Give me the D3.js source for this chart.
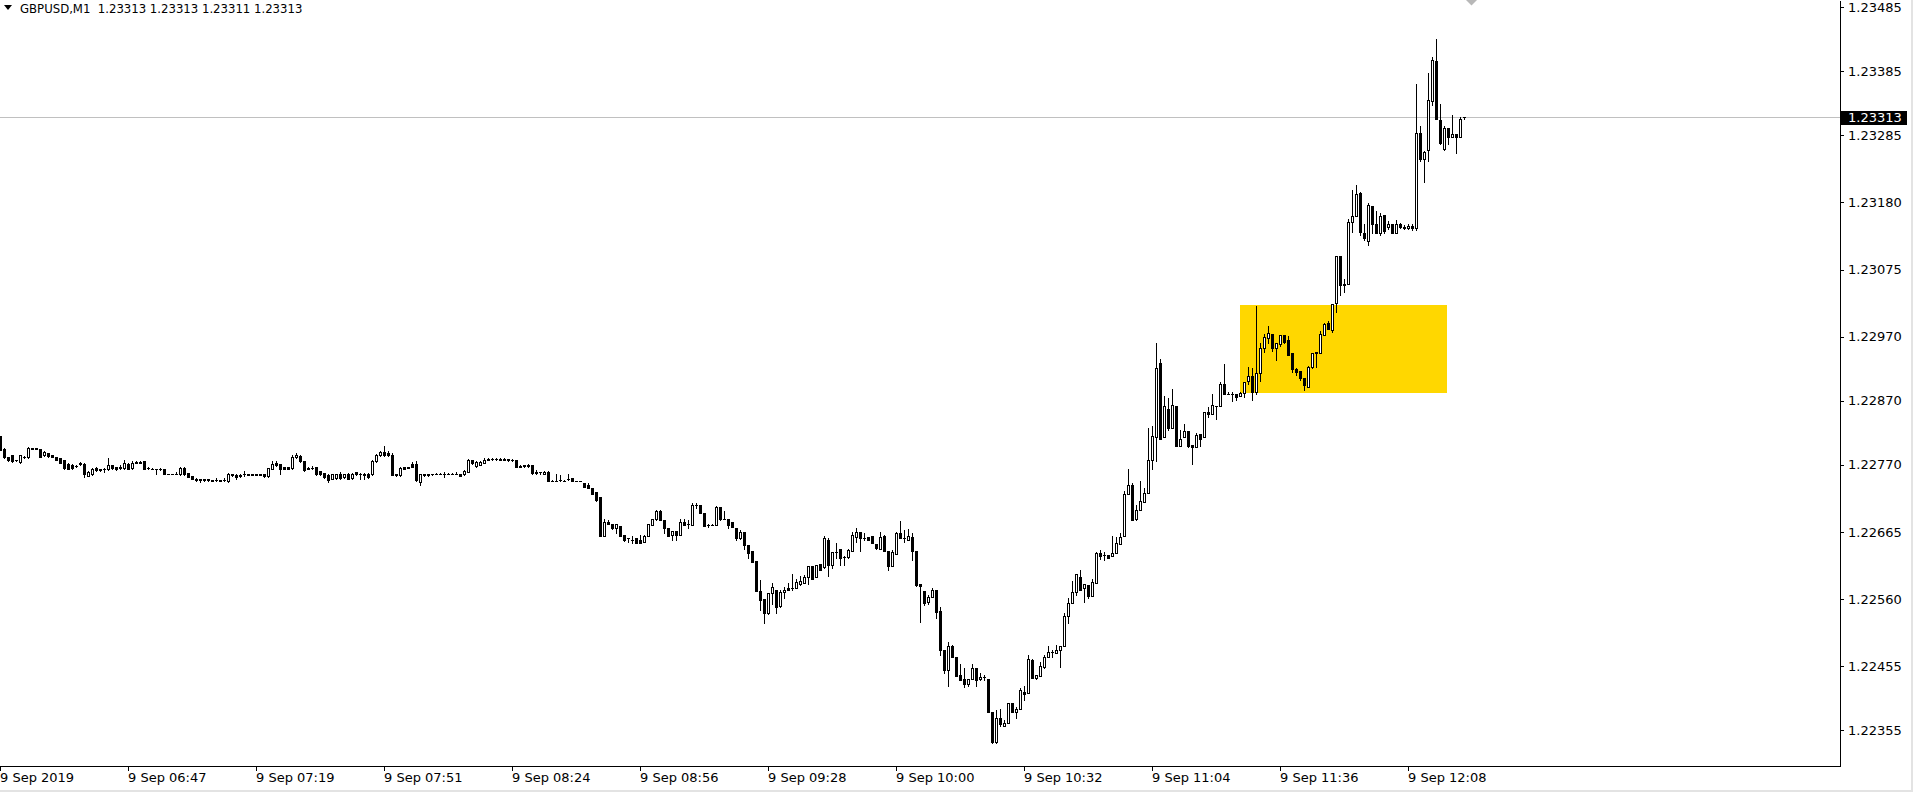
<!DOCTYPE html>
<html><head><meta charset="utf-8">
<script src="https://cdn.jsdelivr.net/npm/d3@7"></script>
<style>
html,body{margin:0;padding:0;background:#fff;overflow:hidden;}
svg{display:block;}
text{font-family:"DejaVu Sans",sans-serif;}
text.title{font-family:"DejaVu Sans Condensed","DejaVu Sans",sans-serif;font-stretch:condensed;}
</style></head><body>
<svg id="chart" width="1915" height="793"></svg>
<script>
// ---------- data ----------
const symbolName = "GBPUSD,M1";
const lastQuote = ["1.23313", "1.23313", "1.23311", "1.23313"];
const currentPrice = 1.23313;
const viewPriceRange = [1.222992, 1.234964];
const visibleBars = 460;
const priceTicks = [1.23485, 1.23385, 1.23285, 1.23180, 1.23075, 1.22970, 1.22870, 1.22770, 1.22665, 1.22560, 1.22455, 1.22355];
const timeTickBars = [0, 32, 64, 96, 128, 160, 192, 224, 256, 288, 320, 352];
const timeLabels = ["9 Sep 2019", "9 Sep 06:47", "9 Sep 07:19", "9 Sep 07:51", "9 Sep 08:24", "9 Sep 08:56", "9 Sep 09:28", "9 Sep 10:00", "9 Sep 10:32", "9 Sep 11:04", "9 Sep 11:36", "9 Sep 12:08"];
const zoneBars = [310, 361.75];
const zonePrices = [1.23020, 1.22882];

const opens = [
1.22815,1.22795,1.22782,1.22785,1.22777,1.22775,1.22782,1.22782,1.22796,1.22796,
1.22795,1.22785,1.22789,1.22785,1.22782,1.22780,1.22777,1.22771,1.22769,1.22768,
1.22771,1.22771,1.22753,1.22755,1.22765,1.22764,1.22763,1.22763,1.22769,1.22767,
1.22767,1.22765,1.22771,1.22765,1.22775,1.22774,1.22776,1.22765,1.22764,1.22764,
1.22764,1.22763,1.22756,1.22756,1.22756,1.22755,1.22765,1.22757,1.22752,1.22748,
1.22747,1.22748,1.22747,1.22746,1.22746,1.22746,1.22746,1.22744,1.22756,1.22754,
1.22754,1.22755,1.22755,1.22755,1.22755,1.22755,1.22755,1.22753,1.22764,1.22772,
1.22771,1.22767,1.22767,1.22765,1.22782,1.22784,1.22776,1.22765,1.22765,1.22767,
1.22760,1.22757,1.22754,1.22748,1.22749,1.22755,1.22751,1.22756,1.22749,1.22758,
1.22756,1.22756,1.22756,1.22755,1.22776,1.22785,1.22790,1.22789,1.22786,1.22755,
1.22754,1.22766,1.22766,1.22771,1.22771,1.22743,1.22755,1.22755,1.22755,1.22756,
1.22756,1.22756,1.22756,1.22756,1.22756,1.22756,1.22755,1.22759,1.22777,1.22768,
1.22770,1.22773,1.22778,1.22779,1.22779,1.22779,1.22778,1.22779,1.22778,1.22777,
1.22767,1.22769,1.22768,1.22770,1.22757,1.22758,1.22756,1.22759,1.22745,1.22745,
1.22746,1.22745,1.22747,1.22749,1.22745,1.22745,1.22741,1.22738,1.22733,1.22728,
1.22720,1.22659,1.22681,1.22677,1.22671,1.22674,1.22660,1.22655,1.22653,1.22655,
1.22653,1.22650,1.22658,1.22676,1.22685,1.22698,1.22684,1.22671,1.22660,1.22666,
1.22660,1.22681,1.22677,1.22676,1.22707,1.22707,1.22695,1.22676,1.22676,1.22676,
1.22704,1.22686,1.22685,1.22681,1.22671,1.22655,1.22665,1.22645,1.22635,1.22620,
1.22573,1.22560,1.22538,1.22569,1.22575,1.22549,1.22571,1.22577,1.22577,1.22577,
1.22584,1.22585,1.22594,1.22612,1.22594,1.22615,1.22611,1.22653,1.22613,1.22634,
1.22638,1.22626,1.22626,1.22636,1.22657,1.22665,1.22656,1.22657,1.22658,1.22646,
1.22639,1.22659,1.22636,1.22612,1.22631,1.22664,1.22655,1.22652,1.22657,1.22636,
1.22584,1.22573,1.22556,1.22564,1.22574,1.22541,1.22481,1.22449,1.22486,1.22469,
1.22441,1.22435,1.22428,1.22435,1.22452,1.22435,1.22438,1.22435,1.22384,1.22336,
1.22374,1.22362,1.22367,1.22397,1.22384,1.22388,1.22415,1.22414,1.22465,1.22436,
1.22440,1.22454,1.22470,1.22478,1.22476,1.22481,1.22486,1.22534,1.22554,1.22571,
1.22595,1.22577,1.22582,1.22565,1.22585,1.22632,1.22629,1.22629,1.22627,1.22632,
1.22646,1.22658,1.22724,1.22738,1.22686,1.22700,1.22712,1.22726,1.22778,1.22814,
1.22929,1.22814,1.22857,1.22828,1.22862,1.22800,1.22814,1.22823,1.22801,1.22797,
1.22818,1.22813,1.22852,1.22850,1.22862,1.22862,1.22897,1.22881,1.22881,1.22881,
1.22878,1.22882,1.22901,1.22909,1.22883,1.22914,1.22952,1.22968,1.22975,1.22953,
1.22959,1.22973,1.22965,1.22944,1.22919,1.22916,1.22906,1.22892,1.22923,1.22947,
1.22944,1.22973,1.22992,1.22981,1.23023,1.23096,1.23051,1.23052,1.23149,1.23159,
1.23194,1.23133,1.23119,1.23174,1.23146,1.23133,1.23160,1.23142,1.23147,1.23133,
1.23146,1.23142,1.23140,1.23143,1.23140,1.23288,1.23248,1.23262,1.23338,1.23401,
1.23309,1.23263,1.23297,1.23283,1.23287,1.23282,1.23313];

const highs = [
1.22815,1.22796,1.22782,1.22786,1.22778,1.22786,1.22784,1.22797,1.22796,1.22796,
1.22795,1.22791,1.22789,1.22785,1.22782,1.22780,1.22777,1.22772,1.22771,1.22769,
1.22775,1.22772,1.22760,1.22765,1.22767,1.22764,1.22765,1.22781,1.22769,1.22767,
1.22769,1.22777,1.22772,1.22776,1.22776,1.22776,1.22776,1.22767,1.22765,1.22764,
1.22765,1.22764,1.22756,1.22756,1.22759,1.22766,1.22766,1.22757,1.22752,1.22749,
1.22748,1.22748,1.22748,1.22746,1.22749,1.22746,1.22750,1.22757,1.22756,1.22755,
1.22756,1.22760,1.22755,1.22755,1.22755,1.22755,1.22756,1.22765,1.22776,1.22776,
1.22771,1.22767,1.22767,1.22785,1.22788,1.22785,1.22776,1.22767,1.22768,1.22767,
1.22760,1.22757,1.22755,1.22756,1.22756,1.22758,1.22756,1.22757,1.22757,1.22759,
1.22757,1.22757,1.22757,1.22777,1.22787,1.22791,1.22800,1.22791,1.22788,1.22755,
1.22766,1.22766,1.22767,1.22775,1.22776,1.22756,1.22756,1.22755,1.22756,1.22757,
1.22757,1.22758,1.22757,1.22757,1.22759,1.22756,1.22762,1.22779,1.22778,1.22776,
1.22776,1.22780,1.22780,1.22780,1.22780,1.22780,1.22780,1.22779,1.22779,1.22778,
1.22769,1.22770,1.22771,1.22770,1.22762,1.22758,1.22760,1.22760,1.22746,1.22756,
1.22754,1.22746,1.22756,1.22749,1.22745,1.22745,1.22741,1.22741,1.22733,1.22728,
1.22720,1.22685,1.22683,1.22677,1.22678,1.22674,1.22660,1.22655,1.22658,1.22655,
1.22660,1.22660,1.22678,1.22686,1.22700,1.22699,1.22684,1.22671,1.22667,1.22667,
1.22685,1.22685,1.22683,1.22710,1.22711,1.22707,1.22695,1.22678,1.22677,1.22706,
1.22704,1.22698,1.22685,1.22681,1.22671,1.22668,1.22665,1.22645,1.22635,1.22620,
1.22590,1.22560,1.22570,1.22585,1.22575,1.22575,1.22579,1.22585,1.22599,1.22591,
1.22596,1.22598,1.22612,1.22612,1.22613,1.22615,1.22658,1.22655,1.22634,1.22648,
1.22638,1.22627,1.22639,1.22665,1.22671,1.22665,1.22664,1.22657,1.22658,1.22646,
1.22665,1.22660,1.22636,1.22637,1.22665,1.22682,1.22668,1.22669,1.22664,1.22636,
1.22584,1.22573,1.22566,1.22577,1.22574,1.22547,1.22481,1.22493,1.22488,1.22469,
1.22459,1.22453,1.22435,1.22459,1.22452,1.22444,1.22441,1.22435,1.22384,1.22386,
1.22388,1.22371,1.22397,1.22397,1.22392,1.22421,1.22424,1.22473,1.22466,1.22441,
1.22462,1.22473,1.22486,1.22480,1.22488,1.22487,1.22538,1.22561,1.22588,1.22600,
1.22605,1.22584,1.22582,1.22591,1.22634,1.22637,1.22633,1.22629,1.22659,1.22657,
1.22663,1.22729,1.22763,1.22742,1.22707,1.22744,1.22733,1.22828,1.22830,1.22961,
1.22935,1.22877,1.22875,1.22889,1.22862,1.22824,1.22834,1.22823,1.22801,1.22819,
1.22818,1.22852,1.22860,1.22881,1.22862,1.22900,1.22927,1.22884,1.22883,1.22881,
1.22884,1.22900,1.22923,1.22922,1.23018,1.22960,1.22975,1.22987,1.22975,1.22961,
1.22973,1.22973,1.22971,1.22944,1.22922,1.22916,1.22906,1.22924,1.22945,1.22947,
1.22979,1.22991,1.22995,1.23022,1.23096,1.23096,1.23061,1.23154,1.23200,1.23207,
1.23197,1.23147,1.23179,1.23174,1.23167,1.23163,1.23160,1.23151,1.23147,1.23152,
1.23148,1.23145,1.23146,1.23146,1.23365,1.23299,1.23260,1.23382,1.23407,1.23435,
1.23334,1.23299,1.23297,1.23317,1.23287,1.23314,1.23313];

const lows = [
1.22793,1.22781,1.22776,1.22774,1.22776,1.22772,1.22781,1.22781,1.22794,1.22794,
1.22782,1.22784,1.22782,1.22782,1.22778,1.22772,1.22764,1.22763,1.22763,1.22767,
1.22769,1.22751,1.22752,1.22754,1.22761,1.22761,1.22759,1.22762,1.22764,1.22762,
1.22763,1.22764,1.22764,1.22764,1.22772,1.22772,1.22763,1.22764,1.22763,1.22756,
1.22762,1.22755,1.22755,1.22755,1.22755,1.22754,1.22754,1.22751,1.22747,1.22744,
1.22743,1.22744,1.22744,1.22744,1.22744,1.22744,1.22744,1.22743,1.22753,1.22748,
1.22751,1.22753,1.22754,1.22754,1.22754,1.22754,1.22751,1.22751,1.22764,1.22768,
1.22755,1.22764,1.22764,1.22764,1.22781,1.22775,1.22761,1.22764,1.22764,1.22754,
1.22754,1.22750,1.22743,1.22747,1.22747,1.22748,1.22750,1.22747,1.22748,1.22754,
1.22748,1.22748,1.22749,1.22754,1.22775,1.22784,1.22784,1.22784,1.22754,1.22753,
1.22753,1.22764,1.22765,1.22766,1.22744,1.22739,1.22753,1.22753,1.22754,1.22755,
1.22755,1.22751,1.22755,1.22755,1.22755,1.22752,1.22754,1.22759,1.22771,1.22767,
1.22769,1.22772,1.22778,1.22778,1.22778,1.22777,1.22777,1.22776,1.22776,1.22766,
1.22766,1.22767,1.22767,1.22756,1.22756,1.22755,1.22755,1.22744,1.22744,1.22744,
1.22745,1.22744,1.22746,1.22745,1.22744,1.22744,1.22735,1.22733,1.22725,1.22714,
1.22658,1.22658,1.22677,1.22670,1.22664,1.22659,1.22651,1.22650,1.22647,1.22648,
1.22648,1.22649,1.22658,1.22676,1.22684,1.22684,1.22664,1.22659,1.22652,1.22652,
1.22660,1.22676,1.22671,1.22676,1.22703,1.22695,1.22674,1.22673,1.22676,1.22676,
1.22684,1.22685,1.22671,1.22673,1.22652,1.22654,1.22638,1.22625,1.22618,1.22573,
1.22543,1.22523,1.22537,1.22553,1.22539,1.22548,1.22561,1.22574,1.22574,1.22577,
1.22582,1.22585,1.22584,1.22592,1.22594,1.22606,1.22608,1.22596,1.22608,1.22625,
1.22613,1.22613,1.22625,1.22636,1.22650,1.22636,1.22653,1.22653,1.22647,1.22638,
1.22639,1.22636,1.22606,1.22612,1.22631,1.22655,1.22650,1.22652,1.22621,1.22580,
1.22525,1.22551,1.22553,1.22564,1.22530,1.22473,1.22445,1.22424,1.22469,1.22440,
1.22434,1.22423,1.22424,1.22435,1.22424,1.22433,1.22434,1.22384,1.22335,1.22335,
1.22362,1.22361,1.22367,1.22384,1.22374,1.22388,1.22402,1.22414,1.22436,1.22435,
1.22440,1.22452,1.22469,1.22470,1.22476,1.22454,1.22486,1.22523,1.22554,1.22566,
1.22574,1.22556,1.22561,1.22565,1.22585,1.22622,1.22621,1.22624,1.22627,1.22632,
1.22646,1.22658,1.22724,1.22684,1.22683,1.22700,1.22712,1.22726,1.22764,1.22776,
1.22811,1.22814,1.22825,1.22828,1.22800,1.22800,1.22814,1.22798,1.22771,1.22797,
1.22800,1.22813,1.22845,1.22850,1.22842,1.22862,1.22881,1.22880,1.22870,1.22871,
1.22878,1.22876,1.22897,1.22872,1.22881,1.22901,1.22947,1.22960,1.22948,1.22933,
1.22955,1.22961,1.22942,1.22915,1.22910,1.22903,1.22887,1.22891,1.22922,1.22923,
1.22944,1.22973,1.22982,1.22978,1.23009,1.23035,1.23040,1.23052,1.23134,1.23159,
1.23129,1.23121,1.23113,1.23133,1.23133,1.23129,1.23133,1.23139,1.23132,1.23133,
1.23140,1.23138,1.23138,1.23137,1.23137,1.23244,1.23212,1.23245,1.23333,1.23310,
1.23272,1.23262,1.23272,1.23283,1.23258,1.23282,1.23311];

const closes = [
1.22793,1.22782,1.22778,1.22776,1.22777,1.22785,1.22782,1.22796,1.22794,1.22795,
1.22782,1.22790,1.22784,1.22782,1.22778,1.22773,1.22765,1.22764,1.22765,1.22768,
1.22772,1.22756,1.22759,1.22763,1.22762,1.22762,1.22763,1.22769,1.22765,1.22763,
1.22765,1.22772,1.22764,1.22773,1.22772,1.22773,1.22764,1.22765,1.22764,1.22764,
1.22763,1.22756,1.22755,1.22755,1.22755,1.22765,1.22755,1.22751,1.22747,1.22746,
1.22746,1.22746,1.22746,1.22745,1.22746,1.22745,1.22746,1.22756,1.22754,1.22751,
1.22753,1.22755,1.22754,1.22754,1.22754,1.22754,1.22753,1.22765,1.22771,1.22769,
1.22763,1.22764,1.22764,1.22782,1.22785,1.22776,1.22762,1.22764,1.22765,1.22755,
1.22755,1.22751,1.22746,1.22755,1.22755,1.22749,1.22755,1.22748,1.22756,1.22755,
1.22755,1.22754,1.22751,1.22776,1.22786,1.22790,1.22786,1.22785,1.22754,1.22754,
1.22765,1.22764,1.22765,1.22767,1.22746,1.22755,1.22754,1.22754,1.22755,1.22756,
1.22756,1.22755,1.22756,1.22756,1.22756,1.22753,1.22760,1.22777,1.22772,1.22775,
1.22775,1.22778,1.22779,1.22779,1.22779,1.22778,1.22779,1.22778,1.22778,1.22767,
1.22768,1.22768,1.22770,1.22757,1.22759,1.22758,1.22759,1.22745,1.22745,1.22745,
1.22746,1.22745,1.22747,1.22745,1.22745,1.22745,1.22736,1.22733,1.22725,1.22715,
1.22659,1.22681,1.22677,1.22671,1.22677,1.22659,1.22652,1.22655,1.22653,1.22648,
1.22648,1.22659,1.22677,1.22685,1.22698,1.22684,1.22671,1.22659,1.22666,1.22660,
1.22681,1.22676,1.22677,1.22707,1.22707,1.22695,1.22674,1.22676,1.22676,1.22704,
1.22685,1.22686,1.22676,1.22673,1.22655,1.22665,1.22645,1.22632,1.22618,1.22573,
1.22558,1.22538,1.22569,1.22579,1.22548,1.22571,1.22574,1.22574,1.22577,1.22586,
1.22589,1.22595,1.22612,1.22592,1.22613,1.22606,1.22655,1.22613,1.22633,1.22634,
1.22625,1.22626,1.22637,1.22660,1.22665,1.22655,1.22656,1.22653,1.22647,1.22640,
1.22657,1.22636,1.22612,1.22633,1.22664,1.22655,1.22655,1.22659,1.22636,1.22582,
1.22580,1.22554,1.22564,1.22574,1.22540,1.22481,1.22449,1.22487,1.22469,1.22440,
1.22434,1.22428,1.22435,1.22452,1.22434,1.22439,1.22438,1.22384,1.22337,1.22374,
1.22365,1.22367,1.22397,1.22384,1.22388,1.22418,1.22411,1.22466,1.22436,1.22441,
1.22455,1.22469,1.22478,1.22478,1.22480,1.22487,1.22534,1.22554,1.22571,1.22599,
1.22574,1.22584,1.22565,1.22586,1.22632,1.22627,1.22629,1.22625,1.22632,1.22647,
1.22657,1.22724,1.22738,1.22684,1.22700,1.22713,1.22726,1.22778,1.22815,1.22922,
1.22811,1.22862,1.22828,1.22863,1.22800,1.22810,1.22823,1.22800,1.22797,1.22816,
1.22811,1.22852,1.22849,1.22863,1.22862,1.22897,1.22881,1.22881,1.22881,1.22876,
1.22882,1.22900,1.22909,1.22883,1.22914,1.22953,1.22969,1.22976,1.22953,1.22961,
1.22973,1.22962,1.22942,1.22919,1.22915,1.22905,1.22895,1.22923,1.22945,1.22945,
1.22974,1.22990,1.22982,1.23022,1.23096,1.23051,1.23053,1.23149,1.23159,1.23193,
1.23134,1.23124,1.23176,1.23147,1.23133,1.23159,1.23136,1.23146,1.23133,1.23146,
1.23142,1.23140,1.23143,1.23140,1.23288,1.23248,1.23259,1.23340,1.23403,1.23310,
1.23273,1.23296,1.23283,1.23287,1.23282,1.23311,1.23313];

// ---------- layout ----------
const W = 1915, H = 793;
const plotW = 1840, plotH = 766;
const FONT = 13;

const svg = d3.select("#chart");
svg.append("rect").attr("width", W).attr("height", H).attr("fill", "#ffffff");

const x = d3.scaleLinear().domain([0, visibleBars]).range([0, plotW]);
const y = d3.scaleLinear().domain(viewPriceRange).range([plotH, 0]);

const n = Math.min(opens.length, highs.length, lows.length, closes.length);
const bars = d3.range(n).map(i => ({ i, o: opens[i], h: highs[i], l: lows[i], c: closes[i] }));

svg.append("defs").append("clipPath").attr("id", "plotclip")
  .append("rect").attr("x", 0).attr("y", 0).attr("width", plotW).attr("height", plotH);

const plot = svg.append("g").attr("clip-path", "url(#plotclip)").attr("shape-rendering", "crispEdges");

// highlighted zone
plot.append("rect")
  .attr("x", x(zoneBars[0]))
  .attr("y", Math.round(y(zonePrices[0])))
  .attr("width", x(zoneBars[1]) - x(zoneBars[0]))
  .attr("height", Math.round(y(zonePrices[1])) - Math.round(y(zonePrices[0])))
  .attr("fill", "#FFD700");

// current price line
const py = Math.round(y(currentPrice));
plot.append("line")
  .attr("x1", 0).attr("x2", plotW)
  .attr("y1", py + 0.5).attr("y2", py + 0.5)
  .attr("stroke", "#c0c0c0").attr("stroke-width", 1);

// candles
const cx = d => Math.round(x(d.i));
const topY = d => Math.round(y(Math.max(d.o, d.c)));
const botY = d => Math.round(y(Math.min(d.o, d.c)));

plot.append("g").selectAll("rect").data(bars).join("rect")
  .attr("x", d => cx(d))
  .attr("y", d => Math.round(y(d.h)))
  .attr("width", 1)
  .attr("height", d => Math.round(y(d.l)) - Math.round(y(d.h)) + 1)
  .attr("fill", "#000");

plot.append("g").selectAll("rect").data(bars).join("rect")
  .attr("x", d => cx(d) - 1)
  .attr("y", d => topY(d))
  .attr("width", 3)
  .attr("height", d => botY(d) - topY(d) + 1)
  .attr("fill", "#000");

plot.append("g").selectAll("rect").data(bars.filter(d => d.c > d.o && botY(d) - topY(d) >= 2)).join("rect")
  .attr("x", d => cx(d))
  .attr("y", d => topY(d) + 1)
  .attr("width", 1)
  .attr("height", d => botY(d) - topY(d) - 1)
  .attr("fill", "#fff");

// ---------- axes ----------
const yAxis = d3.axisRight(y).tickValues(priceTicks).tickFormat(d3.format(".5f"))
  .tickSize(4).tickSizeOuter(0).tickPadding(4);
const gy = svg.append("g").attr("transform", `translate(${plotW},0)`).call(yAxis);
gy.attr("font-family", null).attr("font-size", FONT);
gy.select(".domain").attr("stroke", "#000").attr("shape-rendering", "crispEdges");
gy.selectAll(".tick line").attr("stroke", "#000").attr("shape-rendering", "crispEdges");
gy.selectAll(".tick text").attr("font-size", FONT).attr("fill", "#000");

const xAxis = d3.axisBottom(x).tickValues(timeTickBars).tickFormat((d, i) => timeLabels[i])
  .tickSize(5).tickSizeOuter(0);
const gx = svg.append("g").attr("transform", `translate(0,${plotH})`).call(xAxis);
gx.attr("font-family", null).attr("font-size", FONT);
gx.select(".domain").attr("stroke", "#000").attr("shape-rendering", "crispEdges");
gx.selectAll(".tick line").attr("stroke", "#000").attr("shape-rendering", "crispEdges");
gx.selectAll(".tick text").attr("font-size", FONT).attr("fill", "#000")
  .attr("text-anchor", "start").attr("x", -0.5).attr("y", 7);

// current price label on the price scale
const lbl = svg.append("g");
lbl.append("rect").attr("x", plotW + 1).attr("y", py - 6).attr("width", 66).attr("height", 14).attr("fill", "#000");
lbl.append("text").attr("x", plotW + 8).attr("y", py + 1).attr("dy", "0.32em")
  .attr("font-size", FONT).attr("fill", "#fff").text(d3.format(".5f")(currentPrice));

// title
svg.append("path").attr("d", "M4,5 L12,5 L8,10 Z").attr("fill", "#000");
svg.append("text").attr("class", "title").attr("x", 20).attr("y", 13).attr("font-size", FONT).attr("fill", "#000")
  .attr("xml:space", "preserve").style("white-space", "pre")
  .text(symbolName + "  " + lastQuote.join(" "));

// chart-shift marker at top
svg.append("path").attr("d", "M1466,0 L1477,0 L1471.5,5.5 Z").attr("fill", "#b8b8b8");

// window border
svg.append("rect").attr("x", 1911).attr("y", 0).attr("width", 2).attr("height", 791).attr("fill", "#e3e3e3");
svg.append("rect").attr("x", 0).attr("y", 790).attr("width", 1913).attr("height", 2).attr("fill", "#e3e3e3");
</script>
</body></html>
